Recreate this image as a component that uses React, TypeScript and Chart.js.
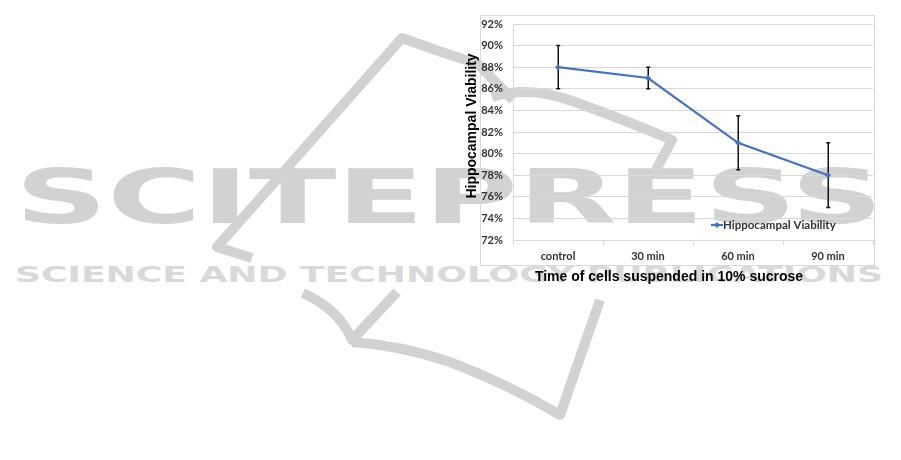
import React, { useEffect, useRef } from "react";
import { Chart, registerables } from "chart.js";

Chart.register(...registerables);

const categories = ["control", "30 min", "60 min", "90 min"];
const viability = [88, 87, 81, 78];
const errLow = [86, 86, 78.5, 75];
const errHigh = [90, 88, 83.5, 81];
const yMin = 72;
const yMax = 92;
const yStep = 2;
const seriesName = "Hippocampal Viability";
const xTitle = "Time of cells suspended in 10% sucrose";
const yTitle = "Hippocampal Viability";

const BLUE = "#4472C4";
const GRID = "#d9d9d9";
const TICK_FONT = "Lato, 'Liberation Sans', sans-serif";
const TITLE_FONT = "'Liberation Sans', Arial, sans-serif";

const errorBarsPlugin = {
  id: "errorBars",
  beforeDatasetsDraw(chart: any) {
    const { ctx, scales } = chart;
    const xs = scales.x;
    const ys = scales.y;
    ctx.save();
    ctx.strokeStyle = "#111";
    ctx.lineWidth = 1.5;
    for (let i = 0; i < categories.length; i++) {
      const x = Math.round(xs.getPixelForValue(i)) + 0.25;
      const yl = ys.getPixelForValue(errLow[i]);
      const yh = ys.getPixelForValue(errHigh[i]);
      ctx.beginPath();
      ctx.moveTo(x, yl);
      ctx.lineTo(x, yh);
      ctx.moveTo(x - 2, yl);
      ctx.lineTo(x + 2, yl);
      ctx.moveTo(x - 2, yh);
      ctx.lineTo(x + 2, yh);
      ctx.stroke();
    }
    ctx.restore();
  },
};

const labelsPlugin = {
  id: "customLabels",
  afterDraw(chart: any) {
    const { ctx, chartArea } = chart;
    ctx.save();
    // x title
    ctx.fillStyle = "#000";
    ctx.font = `bold 14px ${TITLE_FONT}`;
    ctx.textAlign = "center";
    ctx.textBaseline = "alphabetic";
    ctx.fillText(xTitle, 669, 281);
    // y title
    ctx.save();
    ctx.translate(476, 126);
    ctx.rotate(-Math.PI / 2);
    ctx.fillText(yTitle, 0, 0);
    ctx.restore();
    // legend inside plot
    const ly = chartArea.bottom - 15;
    const lx = 711;
    ctx.strokeStyle = BLUE;
    ctx.lineWidth = 2.25;
    ctx.beginPath();
    ctx.moveTo(lx, ly);
    ctx.lineTo(lx + 12, ly);
    ctx.stroke();
    ctx.fillStyle = BLUE;
    ctx.beginPath();
    ctx.moveTo(lx + 6, ly - 3);
    ctx.lineTo(lx + 9, ly);
    ctx.lineTo(lx + 6, ly + 3);
    ctx.lineTo(lx + 3, ly);
    ctx.closePath();
    ctx.fill();
    ctx.fillStyle = "#333";
    ctx.font = `bold 11.5px ${TICK_FONT}`;
    ctx.textAlign = "left";
    ctx.textBaseline = "middle";
    ctx.fillText(seriesName, lx + 12, ly);
    ctx.restore();
  },
};

function Watermark() {
  const c = "#d2d2d2";
  return (
    <svg
      width={901}
      height={460}
      style={{ position: "absolute", left: 0, top: 0 }}
    >
      <g fill="none" stroke={c} strokeWidth={10} strokeLinejoin="round" strokeLinecap="butt">
        <path d="M 252 258 L 217 247 L 402 38 Q 440 52 478 64 L 513 100" />
        <path d="M 492 97 Q 530 85 575 102 Q 630 122 672 140 L 656 170" />
        <path d="M 303 293 Q 340 310 352 340 L 397 292" />
        <path d="M 352 342 Q 400 345 450 362 Q 510 385 560 415 L 600 300" />
      </g>
      <text
        x={15}
        y={223}
        textLength={868}
        lengthAdjust="spacingAndGlyphs"
        fontFamily="'DejaVu Sans', sans-serif"
        fontWeight="bold"
        fontSize={75}
        fill={c}
      >
        SCITEPRESS
      </text>
      <text
        x={15}
        y={282}
        textLength={868}
        lengthAdjust="spacingAndGlyphs"
        fontFamily="'DejaVu Sans', sans-serif"
        fontWeight="bold"
        fontSize={21}
        fill="#d9d9d9"
      >
        SCIENCE AND TECHNOLOGY PUBLICATIONS
      </text>
    </svg>
  );
}

export default function App() {
  const canvasRef = useRef<HTMLCanvasElement | null>(null);

  useEffect(() => {
    const canvas = canvasRef.current;
    if (!canvas) return;
    const chart = new Chart(canvas, {
      type: "line",
      data: {
        labels: categories,
        datasets: [
          {
            label: seriesName,
            data: viability,
            borderColor: BLUE,
            backgroundColor: BLUE,
            borderWidth: 2.25,
            pointStyle: "rectRot",
            pointRadius: 3,
            pointBackgroundColor: BLUE,
            pointBorderColor: BLUE,
            pointBorderWidth: 0,
            tension: 0,
          },
        ],
      },
      options: {
        responsive: false,
        animation: false,
        devicePixelRatio: 1,
        layout: {
          padding: { left: 473, right: 28, top: 24, bottom: 190 },
        },
        plugins: {
          legend: { display: false },
          tooltip: { enabled: false },
        },
        scales: {
          x: {
            type: "category",
            offset: true,
            afterFit: (s: any) => {
              s.height = 30;
            },
            grid: {
              offset: true,
              drawOnChartArea: false,
              drawTicks: true,
              tickLength: 5,
              color: GRID,
            },
            border: { display: true, color: GRID, width: 1 },
            ticks: {
              color: "#333",
              font: { family: TICK_FONT, size: 11, weight: "bold" },
              padding: 5,
              maxRotation: 0,
            },
          },
          y: {
            min: yMin,
            max: yMax,
            afterFit: (s: any) => {
              s.width = 40;
            },
            grid: { color: GRID, drawTicks: false, lineWidth: 1 },
            border: { display: true, color: GRID, width: 1 },
            ticks: {
              stepSize: yStep,
              color: "#333",
              padding: 10,
              font: { family: TICK_FONT, size: 11, weight: "bold" },
              callback: (v: any) => `${v}%`,
            },
          },
        },
      },
      plugins: [errorBarsPlugin, labelsPlugin],
    });
    return () => chart.destroy();
  }, []);

  return (
    <div
      style={{
        position: "absolute",
        left: 0,
        top: 0,
        width: 901,
        height: 460,
        overflow: "hidden",
        background: "#fff",
      }}
    >
      <Watermark />
      <div
        style={{
          position: "absolute",
          left: 480,
          top: 15,
          width: 393,
          height: 249,
          border: `1px solid ${GRID}`,
        }}
      />
      <canvas
        ref={canvasRef}
        width={901}
        height={460}
        style={{ position: "absolute", left: 0, top: 0, display: "block" }}
      />
    </div>
  );
}
